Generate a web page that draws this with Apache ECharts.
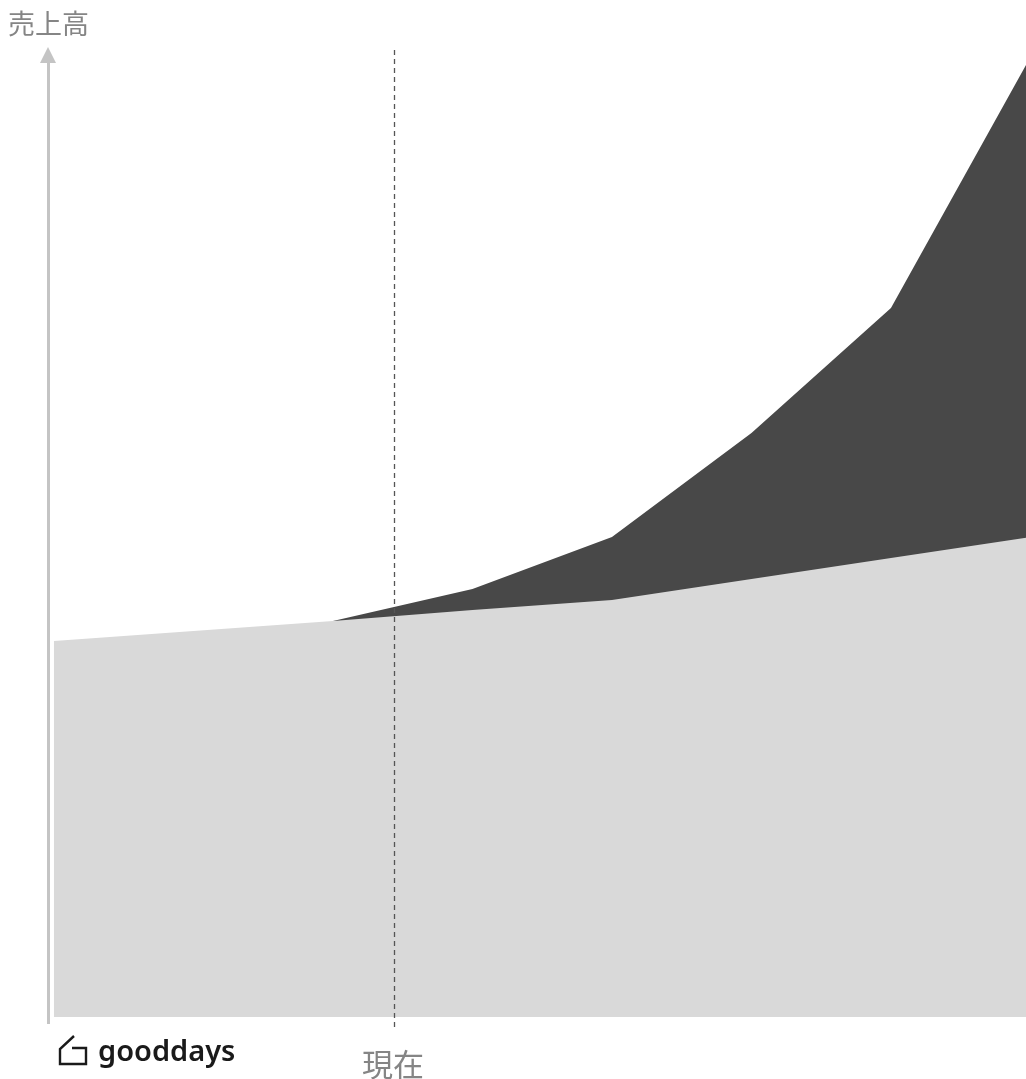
<!DOCTYPE html>
<html>
<head>
<meta charset="utf-8">
<style>html,body{margin:0;padding:0;background:#fff;overflow:hidden}#chart{width:1026px;height:1079px}</style>
<script src="https://cdn.jsdelivr.net/npm/echarts@6/dist/echarts.min.js"></script>
</head>
<body>
<div id="chart"></div>
<script>
// Periods along the horizontal axis
const periods = [0, 1, 2, 3, 4, 5, 6, 7];
// Sales on the current course
const baseSales = [376, 386, 396, 407, 417, 438, 459, 480];
// Sales with the additional growth, starting where it leaves the base
const grownSales = [null, null, 396, 428, 480, 584, 709, 960];
const nowPosition = 2.44;
const axisTitle = '売上高';
const nowLabel = '現在';
const brandName = 'gooddays';

const toPairs = values => periods.map((p, i) => [p, values[i]]);
const cjk = '"Noto Sans CJK JP", sans-serif';

const chart = echarts.init(document.getElementById('chart'), null, { renderer: 'canvas' });
chart.setOption({
  animation: false,
  backgroundColor: '#ffffff',
  grid: { left: 47, top: 17, right: 0, height: 1010 },
  // The last period runs slightly past the right edge of the plot and is clipped there
  xAxis: { type: 'value', min: -0.05, max: 6.968, show: false },
  yAxis: { type: 'value', min: -10, max: 1000, show: false },
  series: [
    {
      type: 'line', z: 2, symbol: 'none', connectNulls: false, clip: true,
      data: toPairs(grownSales),
      lineStyle: { width: 0 },
      areaStyle: { color: '#484848', opacity: 1, origin: 0 }
    },
    {
      type: 'line', z: 3, symbol: 'none', clip: true,
      data: toPairs(baseSales),
      lineStyle: { width: 0 },
      areaStyle: { color: '#d9d9d9', opacity: 1, origin: 0 },
      markLine: {
        silent: true, animation: false, label: { show: false }, z: 5,
        data: [
          [
            { coord: [nowPosition, -10], symbol: 'none', lineStyle: { color: '#555555', width: 1.3, type: [5, 4] } },
            { coord: [nowPosition, 967], symbol: 'none' }
          ],
          [
            { coord: [-0.043, -7], symbol: 'none', lineStyle: { color: '#c4c4c4', width: 3, type: 'solid' } },
            { coord: [-0.043, 962], symbol: 'triangle', symbolSize: [16, 16] }
          ]
        ]
      }
    }
  ],
  graphic: [
    { type: 'text', left: 8, top: 10, style: { text: axisTitle, font: '27px ' + cjk, fill: '#858585' } },
    { type: 'text', left: 362, top: 1049, style: { text: nowLabel, font: '31px ' + cjk, fill: '#858585' } },
    { type: 'text', left: 98, top: 1038, style: { text: brandName, font: '600 29px "Noto Sans", sans-serif', fill: '#1a1a1a' } },
    {
      type: 'polyline', silent: true,
      shape: { points: [[74, 1036], [60, 1049], [60, 1064], [86, 1064], [86, 1048], [72, 1048]] },
      style: { stroke: '#1a1a1a', lineWidth: 2.4, fill: 'none' }
    }
  ]
});
</script>
</body>
</html>
